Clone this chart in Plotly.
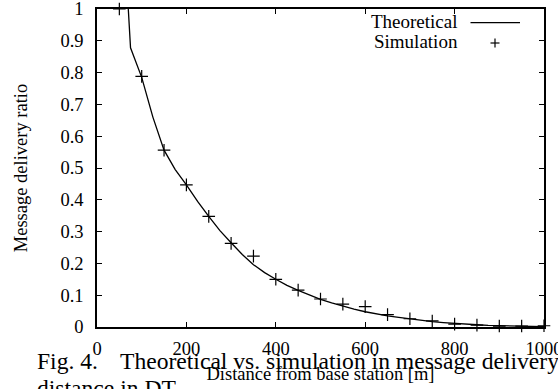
import plotly.graph_objects as go

# ---- data ----
theo_x = [70, 75, 100, 125, 150, 175, 200, 225, 250, 275, 300, 325, 350, 375, 400,
          425, 450, 475, 500, 525, 550, 575, 600, 625, 650, 675, 700, 725, 750, 775,
          800, 825, 850, 875, 900, 925, 950, 975, 1000]
theo_y = [1.0, 0.878, 0.785, 0.66, 0.556, 0.495, 0.447, 0.395, 0.348, 0.303, 0.265,
          0.228, 0.196, 0.171, 0.150, 0.131, 0.115, 0.101, 0.087, 0.076, 0.065, 0.056,
          0.048, 0.041, 0.035, 0.030, 0.025, 0.021, 0.017, 0.014, 0.011, 0.009, 0.007,
          0.005, 0.004, 0.003, 0.002, 0.0015, 0.001]

sim_x = [50, 100, 150, 200, 250, 300, 350, 400, 450, 500, 550, 600, 650, 700, 750,
         800, 850, 900, 950, 1000]
sim_y = [1.0, 0.788, 0.556, 0.447, 0.348, 0.263, 0.223, 0.150, 0.116, 0.088, 0.072,
         0.064, 0.039, 0.026, 0.019, 0.009, 0.006, 0.003, 0.003, 0.004]

x_ticks = [0, 200, 400, 600, 800, 1000]
y_ticks = [0, 0.1, 0.2, 0.3, 0.4, 0.5, 0.6, 0.7, 0.8, 0.9, 1]
y_tick_labels = ["0", "0.1", "0.2", "0.3", "0.4", "0.5", "0.6", "0.7", "0.8", "0.9", "1"]

legend_names = ["Theoretical", "Simulation"]
x_title = "Distance from base station [m]"
y_title = "Message delivery ratio"
caption_1a = "Fig. 4."
caption_1b = "Theoretical vs. simulation in message delivery"
caption_2 = "distance in DT."

FONT = "Liberation Serif"

W, H = 558, 389
L, R, T, B = 97, 14, 9, 62
PW, PH = W - L - R, H - T - B


def px(xp):
    return (xp - L) / PW


def py(yp):
    return (H - B - yp) / PH


fig = go.Figure()
fig.add_trace(go.Scatter(
    x=theo_x, y=theo_y, mode="lines", name=legend_names[0],
    line=dict(color="black", width=1.3), showlegend=False, cliponaxis=False))
fig.add_trace(go.Scatter(
    x=sim_x, y=sim_y, mode="markers", name=legend_names[1],
    marker=dict(symbol="cross-thin", size=9, color="black",
                line=dict(color="black", width=1.2)),
    showlegend=False, cliponaxis=False))

axis_common = dict(
    showline=True, linecolor="black", linewidth=1.5, mirror="ticks",
    ticks="inside", ticklen=5, tickwidth=1, tickcolor="black",
    showgrid=False, zeroline=False, automargin=False,
    ticklabeloverflow="allow",
    tickfont=dict(family=FONT, size=18.5, color="black"),
)

fig.update_xaxes(range=[0, 1000], tickvals=x_ticks, ticklabelstandoff=4,
                 title=dict(text=x_title, font=dict(family=FONT, size=18.5, color="black"),
                            standoff=9),
                 **axis_common)
fig.update_yaxes(range=[0, 1], tickvals=y_ticks, ticktext=y_tick_labels,
                 ticklabelstandoff=8,
                 title=dict(text=y_title, font=dict(family=FONT, size=18.5, color="black"),
                            standoff=28),
                 **axis_common)

# manual gnuplot-style legend (text, then key sample)
fig.add_annotation(text=legend_names[0], xref="paper", yref="paper",
                   x=px(460), y=py(22), xanchor="right", yanchor="middle",
                   showarrow=False, font=dict(family=FONT, size=19, color="black"))
fig.add_annotation(text=legend_names[1], xref="paper", yref="paper",
                   x=px(460), y=py(42), xanchor="right", yanchor="middle",
                   showarrow=False, font=dict(family=FONT, size=19, color="black"))
fig.add_shape(type="line", xref="paper", yref="paper",
              x0=px(470.5), x1=px(520), y0=py(22.7), y1=py(22.7),
              line=dict(color="black", width=1.3))
fig.add_shape(type="line", xref="paper", yref="paper",
              x0=px(490.5), x1=px(499.5), y0=py(43), y1=py(43),
              line=dict(color="black", width=1.2))
fig.add_shape(type="line", xref="paper", yref="paper",
              x0=px(495), x1=px(495), y0=py(38.5), y1=py(47.5),
              line=dict(color="black", width=1.2))

# caption text from the page below the figure
fig.add_annotation(text=caption_1a, xref="paper", yref="paper",
                   x=px(35), y=py(361), xanchor="left", yanchor="middle",
                   showarrow=False, font=dict(family=FONT, size=23.6, color="black"))
fig.add_annotation(text=caption_1b, xref="paper", yref="paper",
                   x=px(118), y=py(361), xanchor="left", yanchor="middle",
                   showarrow=False, font=dict(family=FONT, size=23.6, color="black"))
fig.add_annotation(text=caption_2, xref="paper", yref="paper",
                   x=px(35), y=py(388), xanchor="left", yanchor="middle",
                   showarrow=False, font=dict(family=FONT, size=23.6, color="black"))

fig.update_layout(
    width=W, height=H,
    margin=dict(l=L, r=R, t=T, b=B, pad=0, autoexpand=False),
    paper_bgcolor="white", plot_bgcolor="white",
    font=dict(family=FONT, color="black"),
    showlegend=False,
)

fig.write_html("out.html")
